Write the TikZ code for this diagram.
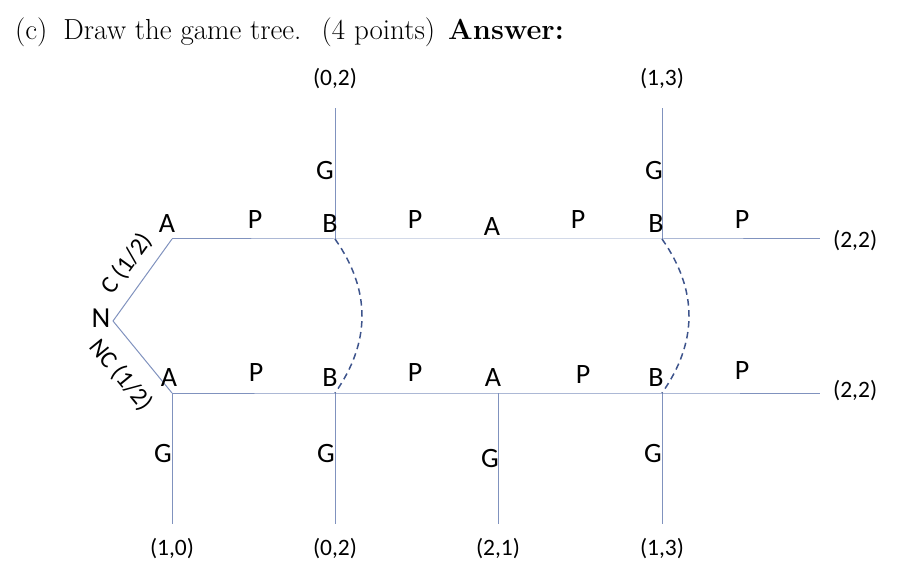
\documentclass[tikz,border=0pt]{standalone}
\usepackage{fontspec}
\newfontfamily\carl{Carlito}
\definecolor{ln}{RGB}{128,146,190}
\definecolor{dsh}{RGB}{62,84,140}
\begin{document}
\begin{tikzpicture}[x=1pt,y=-1pt,
  edge/.style={draw=ln, line width=1pt},
  info/.style={draw=dsh, line width=1.5pt, dash pattern=on 6.5pt off 4.5pt},
  lbl/.style={font=\carl\fontsize{28}{30}\selectfont, inner sep=0, anchor=base},
  pay/.style={font=\carl\fontsize{23.5}{26}\selectfont, inner sep=0},
  brl/.style={font=\carl\fontsize{24.5}{27}\selectfont, inner sep=0}]
\useasboundingbox (0,0) rectangle (897,564);
\node[anchor=base west, inner sep=0, font=\fontsize{29}{34}\selectfont] (title) at (15,40)
  {(c)\hspace{0.55em}Draw the game tree.\hspace{0.7em}(4 points)\hspace{0.45em}\textbf{Answer:}};
% vertices
\coordinate (N) at (113,321);
\coordinate (A1) at (172,239);
\coordinate (A2) at (172,393);
\coordinate (B1) at (335,239);
\coordinate (B2) at (335,393);
\coordinate (A3) at (498,239);
\coordinate (A4) at (498,393);
\coordinate (B3) at (662,239);
\coordinate (B4) at (662,393);
\coordinate (E1) at (820,239);
\coordinate (E2) at (820,393);
\coordinate (T1) at (335,108);
\coordinate (T2) at (662,108);
\coordinate (D1) at (172,524);
\coordinate (D2) at (335,524);
\coordinate (D3) at (498,524);
\coordinate (D4) at (662,524);
% edges
\draw[edge] (N) -- (A1);
\draw[edge] (N) -- (A2);
\draw[edge] (A1) -- (B1) -- (A3) -- (B3) -- (E1);
\draw[edge] (A2) -- (B2) -- (A4) -- (B4) -- (E2);
\draw[edge] (B1) -- (T1);
\draw[edge] (B3) -- (T2);
\draw[edge] (A2) -- (D1);
\draw[edge] (B2) -- (D2);
\draw[edge] (A4) -- (D3);
\draw[edge] (B4) -- (D4);
% information sets
\draw[info] (B1) .. controls (371,290) and (371,342) .. (B2);
\draw[info] (B3) .. controls (698,290) and (698,342) .. (B4);
% node labels
\node[font=\carl\fontsize{29}{32}\selectfont, inner sep=0] (lN) at (101,318) {N};
\node[lbl] (lA1) at (167,233) {A};
\node[lbl] (lP1) at (255,229) {P};
\node[lbl] (lB1) at (330,233) {B};
\node[lbl] (lP2) at (415,229) {P};
\node[lbl] (lA3) at (492,236) {A};
\node[lbl] (lP3) at (578,229) {P};
\node[lbl] (lB3) at (656,233) {B};
\node[lbl] (lP4) at (742,229) {P};
\node[lbl] (lA2) at (169,386) {A};
\node[lbl] (lP5) at (256,381) {P};
\node[lbl] (lB2) at (330,386) {B};
\node[lbl] (lP6) at (415,381) {P};
\node[lbl] (lA4) at (493,386) {A};
\node[lbl] (lP7) at (583,383) {P};
\node[lbl] (lB4) at (656,386) {B};
\node[lbl] (lP8) at (742,379) {P};
% G labels
\node[lbl] (lG1) at (325,180) {G};
\node[lbl] (lG2) at (654,180) {G};
\node[lbl] (lG3) at (163,462) {G};
\node[lbl] (lG4) at (326,462) {G};
\node[lbl] (lG5) at (490,467) {G};
\node[lbl] (lG6) at (653,462) {G};
% branch labels
\node[brl, rotate=54] (lC) at (127,264) {C (1/2)};
\node[brl, rotate=-50.7] (lNC) at (121,375) {NC (1/2)};
% payoffs
\node[pay] (p1) at (335,79) {(0,2)};
\node[pay] (p2) at (662,79) {(1,3)};
\node[pay, anchor=west] (p3) at (833,241) {(2,2)};
\node[pay, anchor=west] (p4) at (833,391) {(2,2)};
\node[pay] (p5) at (172,549) {(1,0)};
\node[pay] (p6) at (335,549) {(0,2)};
\node[pay] (p7) at (498,549) {(2,1)};
\node[pay] (p8) at (662,549) {(1,3)};
\end{tikzpicture}
\end{document}
